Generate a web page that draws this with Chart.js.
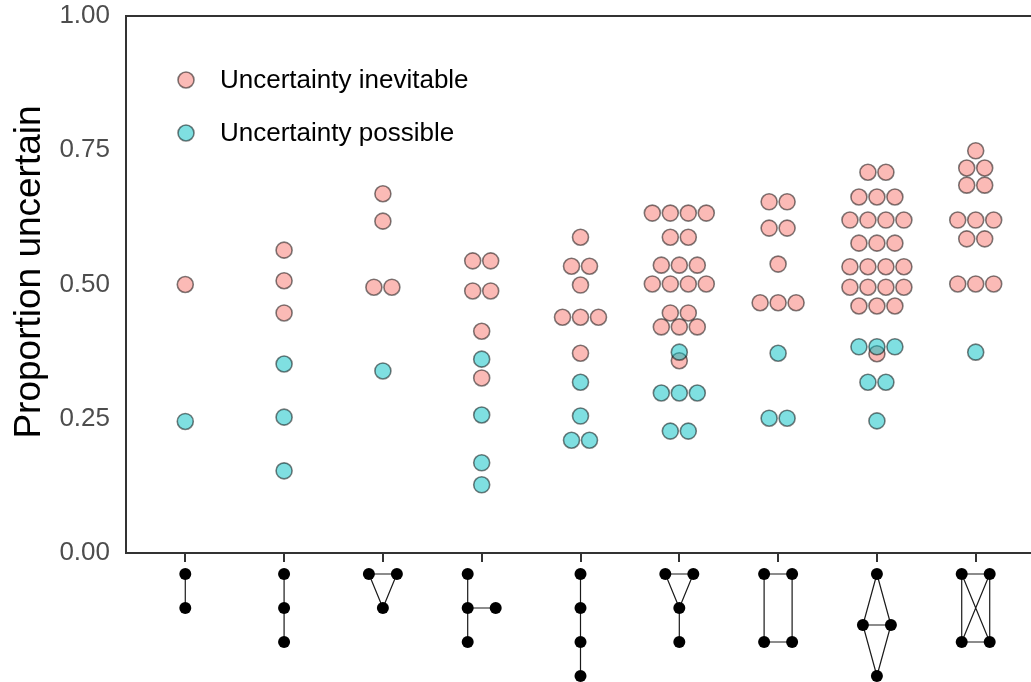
<!DOCTYPE html>
<html>
<head>
<meta charset="utf-8">
<script src="https://cdn.jsdelivr.net/npm/chart.js@4.4.1/dist/chart.umd.min.js"></script>
<style>
  html, body { margin: 0; padding: 0; background: #fff; }
  #wrap { width: 1031px; height: 682px; overflow: hidden; position: relative; }
  canvas { display: block; }
</style>
</head>
<body>
<div id="wrap"><canvas id="c" width="1040" height="682"></canvas></div>
<script>
// Graph types along the x axis (each drawn as a small graph glyph)
const categories = ['K2', 'P3', 'K3', 'Claw', 'P4', 'Paw', 'C4', 'Diamond', 'K4'];

// y-axis ticks
const yTicks = [0, 0.25, 0.5, 0.75, 1];
const yTickLabels = ['0.00', '0.25', '0.50', '0.75', '1.00'];
const yTitle = 'Proportion uncertain';

// Proportion uncertain per configuration, by category (repeated values are separate configurations)
const inevitable = [
  [0.500],
  [0.564, 0.507, 0.447],
  [0.669, 0.618, 0.495, 0.495],
  [0.544, 0.544, 0.488, 0.488, 0.413, 0.326],
  [0.588, 0.534, 0.534, 0.499, 0.439, 0.439, 0.439, 0.372],
  [0.633, 0.633, 0.633, 0.633, 0.588, 0.588, 0.536, 0.536, 0.536,
   0.501, 0.501, 0.501, 0.501, 0.447, 0.447, 0.421, 0.421, 0.421, 0.358],
  [0.654, 0.654, 0.605, 0.605, 0.538, 0.466, 0.466, 0.466],
  [0.709, 0.709, 0.663, 0.663, 0.663, 0.620, 0.620, 0.620, 0.620,
   0.577, 0.577, 0.577, 0.533, 0.533, 0.533, 0.533, 0.495, 0.495, 0.495, 0.495,
   0.460, 0.460, 0.460, 0.371],
  [0.749, 0.717, 0.717, 0.685, 0.685, 0.620, 0.620, 0.620, 0.585, 0.585,
   0.501, 0.501, 0.501]
];
const possible = [
  [0.245],
  [0.352, 0.253, 0.153],
  [0.339],
  [0.361, 0.257, 0.168, 0.127],
  [0.318, 0.255, 0.210, 0.210],
  [0.374, 0.298, 0.298, 0.298, 0.227, 0.227],
  [0.372, 0.251, 0.251],
  [0.384, 0.384, 0.384, 0.318, 0.318, 0.246],
  [0.374]
];

const seriesNames = ['Uncertainty inevitable', 'Uncertainty possible'];

// Glyph shapes: node grid coordinates (col, row) and edges by node index
const glyphs = [
  { nodes: [[0,0],[0,1]], edges: [[0,1]] },
  { nodes: [[0,0],[0,1],[0,2]], edges: [[0,1],[1,2]] },
  { nodes: [[-1,0],[1,0],[0,1]], edges: [[0,1],[0,2],[1,2]] },
  { nodes: [[-1,0],[-1,1],[-1,2],[1,1]], edges: [[0,1],[1,2],[1,3]] },
  { nodes: [[0,0],[0,1],[0,2],[0,3]], edges: [[0,1],[1,2],[2,3]] },
  { nodes: [[-1,0],[1,0],[0,1],[0,2]], edges: [[0,1],[0,2],[1,2],[2,3]] },
  { nodes: [[-1,0],[1,0],[-1,2],[1,2]], edges: [[0,1],[0,2],[1,3],[2,3]] },
  { nodes: [[0,0],[-1,1.5],[1,1.5],[0,3]], edges: [[0,1],[0,2],[1,2],[1,3],[2,3]] },
  { nodes: [[-1,0],[1,0],[-1,2],[1,2]], edges: [[0,1],[0,2],[0,3],[1,2],[1,3],[2,3]] }
];

const FONT = '"Liberation Sans", Arial, sans-serif';
const PINK_FILL = 'rgba(248,118,109,0.5)';
const TEAL_FILL = 'rgba(0,191,196,0.5)';
const DOT_EDGE = 'rgba(0,0,0,0.5)';
const DOT_R = 8;
const DOT_STEP = 0.182; // side-by-side spacing of equal values, in category units

// Lay equal values of one category side by side, centred on the category
function swarm(groups) {
  const pts = [];
  groups.forEach((vals, ci) => {
    const counts = new Map();
    vals.forEach(v => counts.set(v, (counts.get(v) || 0) + 1));
    const seen = new Map();
    vals.forEach(v => {
      const n = counts.get(v);
      const k = seen.has(v) ? seen.get(v) + 1 : 0;
      seen.set(v, k);
      pts.push({ x: ci + 1 + (k - (n - 1) / 2) * DOT_STEP, y: v });
    });
  });
  return pts;
}

const frame = {
  id: 'frame',
  beforeDatasetsDraw(chart) {
    const { ctx, chartArea: a, scales: { x } } = chart;
    ctx.save();
    ctx.strokeStyle = '#333333';
    ctx.lineWidth = 2;
    ctx.beginPath();
    ctx.moveTo(a.right, a.top);
    ctx.lineTo(a.left, a.top);
    ctx.lineTo(a.left, a.bottom);
    ctx.lineTo(a.right, a.bottom);
    ctx.lineTo(a.right, a.top);
    categories.forEach((c, i) => {
      const px = Math.round(x.getPixelForValue(i + 1));
      ctx.moveTo(px, a.bottom);
      ctx.lineTo(px, a.bottom + 9);
    });
    ctx.stroke();
    // y-axis title
    ctx.translate(30, 272);
    ctx.rotate(-Math.PI / 2);
    ctx.font = '37px ' + FONT;
    ctx.fillStyle = '#000';
    ctx.textAlign = 'center';
    ctx.textBaseline = 'middle';
    ctx.fillText(yTitle, 0, 0);
    ctx.restore();
  },
  afterDraw(chart) {
    const { ctx, chartArea: a, scales: { x } } = chart;
    ctx.save();
    // graph glyphs under each category
    const colW = 14, rowH = 34, top = a.bottom + 21;
    glyphs.forEach((g, i) => {
      const cx = x.getPixelForValue(i + 1);
      const pos = g.nodes.map(([c, r]) => [cx + c * colW, top + r * rowH]);
      ctx.strokeStyle = '#1a1a1a';
      ctx.lineWidth = 1.2;
      ctx.beginPath();
      g.edges.forEach(([p, q]) => {
        ctx.moveTo(pos[p][0], pos[p][1]);
        ctx.lineTo(pos[q][0], pos[q][1]);
      });
      ctx.stroke();
      ctx.fillStyle = '#000';
      pos.forEach(([px, py]) => {
        ctx.beginPath();
        ctx.arc(px, py, 6, 0, Math.PI * 2);
        ctx.fill();
      });
    });
    // legend
    const fills = [PINK_FILL, TEAL_FILL];
    const rows = [80, 133];
    ctx.font = '26px ' + FONT;
    ctx.textBaseline = 'middle';
    ctx.textAlign = 'left';
    seriesNames.forEach((name, i) => {
      ctx.beginPath();
      ctx.arc(186, rows[i], DOT_R, 0, Math.PI * 2);
      ctx.fillStyle = fills[i];
      ctx.fill();
      ctx.strokeStyle = DOT_EDGE;
      ctx.lineWidth = 1.6;
      ctx.stroke();
      ctx.fillStyle = '#000';
      ctx.fillText(name, 220, rows[i] + 1);
    });
    ctx.restore();
  }
};

new Chart(document.getElementById('c'), {
  type: 'scatter',
  data: {
    datasets: [
      {
        label: seriesNames[1],
        data: swarm(possible),
        backgroundColor: TEAL_FILL,
        borderColor: DOT_EDGE,
        borderWidth: 1.6,
        pointRadius: DOT_R,
        pointHoverRadius: DOT_R
      },
      {
        label: seriesNames[0],
        data: swarm(inevitable),
        backgroundColor: PINK_FILL,
        borderColor: DOT_EDGE,
        borderWidth: 1.6,
        pointRadius: DOT_R,
        pointHoverRadius: DOT_R
      }
    ]
  },
  options: {
    responsive: false,
    devicePixelRatio: 1,
    animation: false,
    events: [],
    layout: { autoPadding: false, padding: { left: 0, top: 16, right: 5, bottom: 0 } },
    plugins: { legend: { display: false }, tooltip: { enabled: false } },
    scales: {
      x: {
        type: 'linear',
        min: 0.4,
        max: 9.6,
        grid: { display: false, drawTicks: false },
        border: { display: false },
        ticks: { display: false },
        afterFit(s) { s.height = 129; }
      },
      y: {
        min: 0,
        max: 1,
        afterBuildTicks(s) { s.ticks = yTicks.map(v => ({ value: v })); },
        ticks: {
          callback: (v) => yTickLabels[yTicks.indexOf(v)],
          color: '#4d4d4d',
          font: { family: FONT, size: 26 },
          padding: 16
        },
        grid: { display: false, drawTicks: false },
        border: { display: false },
        title: { display: false },
        afterFit(s) { s.width = 126; s.paddingTop = 0; s.paddingBottom = 0; }
      }
    }
  },
  plugins: [frame]
});
</script>
</body>
</html>
